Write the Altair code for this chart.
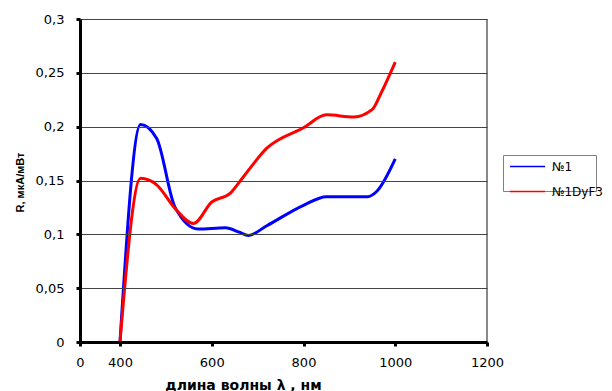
import altair as alt
import pandas as pd

# Spectral responsivity of two samples
wl_1 = [400, 445, 480, 520, 570, 630, 660, 680, 720, 800, 850, 900, 940, 960, 1000]
r_1 = [0, 0.202, 0.189, 0.125, 0.105, 0.106, 0.102, 0.099, 0.108, 0.127, 0.135, 0.135, 0.135, 0.140, 0.170]

wl_2 = [400, 445, 480, 520, 560, 600, 640, 670, 720, 800, 850, 910, 950, 970, 1000]
r_2 = [0, 0.152, 0.146, 0.124, 0.110, 0.130, 0.138, 0.154, 0.180, 0.199, 0.211, 0.209, 0.216, 0.232, 0.260]

series_names = ["№1", "№1DyF3"]
series_colors = ["#0000FF", "#FF0000"]

x_ticks = [0, 400, 600, 800, 1000, 1200]
y_ticks = [0, 0.05, 0.1, 0.15, 0.2, 0.25, 0.3]
x_max = [1200]

df = pd.concat([
    pd.DataFrame({"wl": wl_1, "r": r_1, "s": series_names[0], "o": range(len(wl_1))}),
    pd.DataFrame({"wl": wl_2, "r": r_2, "s": series_names[1], "o": range(len(wl_2))}),
])
edge = pd.DataFrame({"x": x_max})

FONT = "DejaVu Sans"
W, H = 407, 323

x_scale = alt.Scale(domain=[0, 400, 1200], range=[0, 40, W], nice=False, zero=False)
y_scale = alt.Scale(domain=[0, 0.3], nice=False)

lines = alt.Chart(df).mark_line(interpolate="monotone", strokeWidth=3).encode(
    x=alt.X("wl:Q", scale=x_scale,
            axis=alt.Axis(values=x_ticks, grid=False, title="длина волны  λ , нм",
                          labelExpr="toString(datum.value)",
                          domainColor="black", domainWidth=3, tickColor="black",
                          tickWidth=3, tickSize=4, zindex=1,
                          labelFont=FONT, labelFontSize=13, labelColor="black",
                          labelPadding=10, titleFont=FONT, titleFontSize=14, titleFontWeight="bold",
                          titleColor="black", titleX=163, titleY=47, titleBaseline="alphabetic",
                          labelFlush=False)),
    y=alt.Y("r:Q", scale=y_scale,
            axis=alt.Axis(values=y_ticks, grid=True, gridColor="#444444", gridWidth=1,
                          title="R, мкА/мВт",
                          labelExpr="replace(toString(datum.value), '.', ',')",
                          domainColor="black", domainWidth=3, tickColor="black",
                          tickWidth=3, tickSize=4, zindex=1,
                          labelFont=FONT, labelFontSize=13, labelColor="black",
                          labelPadding=12, titleFont="Liberation Sans", titleFontSize=11,
                          titleFontWeight="bold", titleColor="black", titleX=-57, titleY=163,
                          titleAngle=-90, titleAlign="center", titleBaseline="alphabetic")),
    color=alt.Color("s:N", scale=alt.Scale(domain=series_names, range=series_colors),
                    legend=alt.Legend(title=None, orient="none", legendX=423, legendY=136,
                                      symbolType="stroke", symbolSize=1225, symbolStrokeWidth=1.5,
                                      symbolOffset=13,
                                      labelFont=FONT, labelFontSize=12, labelColor="black",
                                      strokeColor="#808080", padding=-7, rowPadding=-11.5,
                                      labelOffset=6, fillColor="white")),
    order="o:Q",
)

# light grey frame line on the right edge of the plot area
right_edge = alt.Chart(edge).mark_rule(color="#888888", strokeWidth=2).encode(
    x=alt.X("x:Q", scale=x_scale))

chart = alt.layer(right_edge, lines).properties(
    width=W, height=H,
    autosize=alt.AutoSizeParams(type="none"),
    padding={"left": 80, "top": 19, "right": 125, "bottom": 49},
).configure_view(stroke="transparent").configure(background="white")

chart.save("out.html", embed_options={"renderer": "svg", "actions": False})
